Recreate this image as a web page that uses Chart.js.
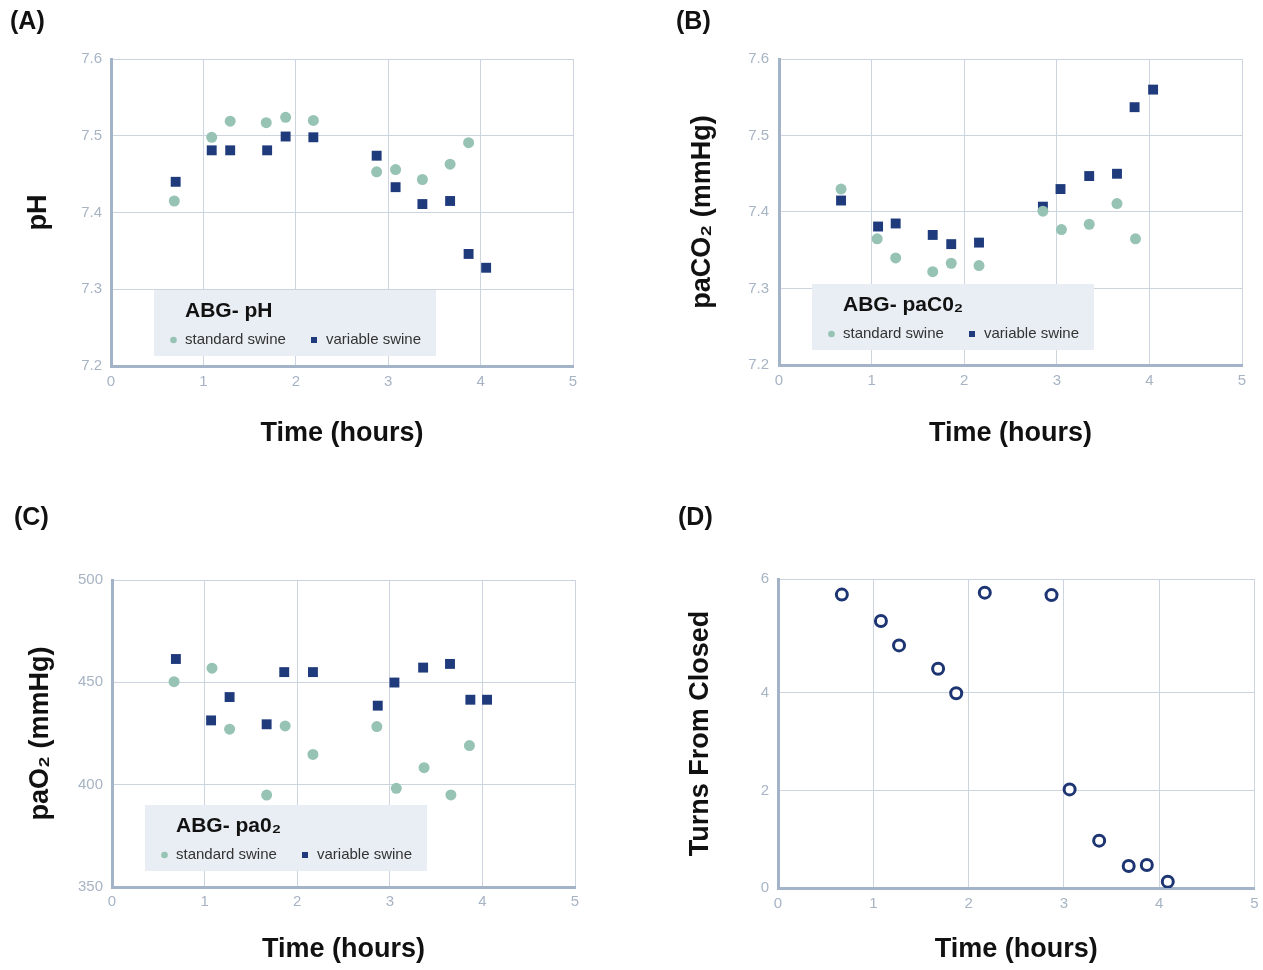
<!DOCTYPE html>
<html>
<head>
<meta charset="utf-8">
<title>ABG panels</title>
<script src="https://cdn.jsdelivr.net/npm/chart.js@4.4.0/dist/chart.umd.min.js"></script>
<style>
  body { margin: 0; background: #fff; }
  #wrap { position: relative; width: 1263px; height: 970px; }
  #wrap canvas { position: absolute; }
</style>
</head>
<body>
<div id="wrap">
  <canvas id="chartA" width="631" height="485" style="left:0;top:0"></canvas>
  <canvas id="chartB" width="631" height="485" style="left:632px;top:0"></canvas>
  <canvas id="chartC" width="631" height="485" style="left:0;top:485px"></canvas>
  <canvas id="chartD" width="631" height="485" style="left:632px;top:485px"></canvas>
</div>
<script>
// (A) pH
const phStdTime = [0.685, 1.09, 1.29, 1.68, 1.89, 2.19, 2.875, 3.08, 3.37, 3.67, 3.87];
const phStd     = [7.415, 7.498, 7.519, 7.517, 7.524, 7.520, 7.453, 7.456, 7.443, 7.463, 7.491];
const phVarTime = [0.70, 1.09, 1.29, 1.69, 1.89, 2.19, 2.875, 3.08, 3.37, 3.67, 3.87, 4.06];
const phVar     = [7.440, 7.481, 7.481, 7.481, 7.499, 7.498, 7.474, 7.433, 7.411, 7.415, 7.346, 7.328];

// (B) paCO2
const co2StdTime = [0.67, 1.06, 1.26, 1.66, 1.86, 2.16, 2.85, 3.05, 3.35, 3.65, 3.85];
const co2Std     = [7.430, 7.365, 7.340, 7.322, 7.333, 7.330, 7.401, 7.377, 7.384, 7.411, 7.365];
const co2VarTime = [0.67, 1.07, 1.26, 1.66, 1.86, 2.16, 2.85, 3.04, 3.35, 3.65, 3.84, 4.04];
const co2Var     = [7.415, 7.381, 7.385, 7.370, 7.358, 7.360, 7.407, 7.430, 7.447, 7.450, 7.537, 7.560];

// (C) paO2
const o2StdTime = [0.67, 1.08, 1.27, 1.67, 1.87, 2.17, 2.86, 3.07, 3.37, 3.66, 3.86];
const o2Std     = [450.3, 456.9, 427.1, 394.9, 428.7, 414.8, 428.4, 398.2, 408.3, 395.0, 419.1];
const o2VarTime = [0.69, 1.07, 1.27, 1.67, 1.86, 2.17, 2.87, 3.05, 3.36, 3.65, 3.87, 4.05];
const o2Var     = [461.4, 431.4, 442.8, 429.5, 455.0, 455.0, 438.6, 449.9, 457.2, 459.0, 441.5, 441.5];

// (D) valve turns
const turnsTime = [0.67, 1.08, 1.27, 1.68, 1.87, 2.17, 2.87, 3.06, 3.37, 3.68, 3.87, 4.09];
const turns     = [6.01, 5.47, 4.97, 4.49, 3.99, 6.05, 6.00, 2.02, 0.97, 0.45, 0.47, 0.13];
const turnsTicks  = [0, 2, 4, 6.33];
const turnsLabels = ['0', '2', '4', '6'];

const timeTicksMax = 5;

const stdColor = '#97c3b4';
const varColor = '#1f3b7c';
const gridColor = '#cbd4df';
const axisColor = '#a3b4c8';
const tickColor = '#a7b4c4';
const FONT = '"Liberation Sans", Arial, Helvetica, sans-serif';

Chart.defaults.font.family = FONT;
Chart.defaults.animation = false;

function pts(xs, ys) {
    return xs.map((x, i) => ({ x: x, y: ys[i] }));
}

// grey box with the "ABG- ..." heading and the two series keys
const boxLegend = {
    id: 'boxLegend',
    afterDraw(chart, args, opts) {
        if (!opts || !opts.title) return;
        const ctx = chart.ctx;
        const x = opts.x, y = opts.y;
        ctx.save();
        ctx.fillStyle = '#e8eef3';
        ctx.fillRect(x, y, 282, 66);
        ctx.textBaseline = 'middle';
        ctx.textAlign = 'left';
        ctx.fillStyle = '#111';
        ctx.font = 'bold 21px ' + FONT;
        ctx.fillText(opts.title, x + 31, y + 21);
        ctx.font = '15px ' + FONT;
        const mx = [19.5, 160], tx = [31, 172];
        chart.data.datasets.forEach((ds, i) => {
            ctx.fillStyle = ds.backgroundColor;
            if (ds.pointStyle === 'rect') {
                ctx.fillRect(x + mx[i] - 3, y + 50 - 3, 6, 6);
            } else {
                ctx.beginPath();
                ctx.arc(x + mx[i], y + 50, 3.3, 0, Math.PI * 2);
                ctx.fill();
            }
            ctx.fillStyle = '#333';
            ctx.fillText(ds.label, x + tx[i], y + 50);
        });
        ctx.restore();
    }
};

const panelLabel = {
    id: 'panelLabel',
    afterDraw(chart, args, opts) {
        if (!opts || !opts.text) return;
        const ctx = chart.ctx;
        ctx.save();
        ctx.fillStyle = '#111';
        ctx.font = 'bold 25px ' + FONT;
        ctx.textBaseline = 'middle';
        ctx.fillText(opts.text, opts.x, opts.y);
        ctx.restore();
    }
};

Chart.register(boxLegend, panelLabel);

function xScale(height, titlePad, tickPad) {
    return {
        type: 'linear',
        min: 0,
        max: timeTicksMax,
        ticks: { stepSize: 1, color: tickColor, font: { size: 15 }, padding: tickPad, maxRotation: 0 },
        grid: { color: gridColor, drawTicks: false },
        border: { color: axisColor, width: 3 },
        title: { display: true, text: 'Time (hours)', color: '#111',
                 font: { size: 27, weight: 'bold' }, padding: { top: 0, bottom: titlePad } },
        afterFit: s => { s.height = height; s.paddingLeft = 0; s.paddingRight = 0; }
    };
}

function yScale(min, max, step, title, width, titlePad, tickPad, fmt) {
    return {
        min: min,
        max: max,
        ticks: { stepSize: step, color: tickColor, font: { size: 15 }, padding: tickPad, callback: fmt },
        grid: { color: gridColor, drawTicks: false },
        border: { color: axisColor, width: 3 },
        title: { display: true, text: title, color: '#111',
                 font: { size: 27, weight: 'bold' }, padding: { top: titlePad, bottom: 0 } },
        afterFit: s => { s.width = width; s.paddingTop = 0; s.paddingBottom = 0; }
    };
}

function twoSeries(stdT, stdV, varT, varV) {
    return [
        { label: 'standard swine', data: pts(stdT, stdV), pointStyle: 'circle',
          pointRadius: 5.5, backgroundColor: stdColor, borderWidth: 0 },
        { label: 'variable swine', data: pts(varT, varV), pointStyle: 'rect',
          pointRadius: 7, backgroundColor: varColor, borderWidth: 0 }
    ];
}

function baseOptions(pad, x, y, plugins) {
    return {
        responsive: false,
        devicePixelRatio: 1,
        layout: { padding: { top: pad.top, right: pad.right, bottom: 0, left: 0 } },
        scales: { x: x, y: y },
        plugins: Object.assign({ legend: { display: false }, tooltip: { enabled: false } }, plugins)
    };
}

const oneDecimal = v => v.toFixed(1);

new Chart(document.getElementById('chartA'), {
    type: 'scatter',
    data: { datasets: twoSeries(phStdTime, phStd, phVarTime, phVar) },
    options: baseOptions({ top: 59, right: 58 },
        xScale(119, 35, 7),
        yScale(7.2, 7.6, 0.1, 'pH', 111, 22, 9, oneDecimal),
        { boxLegend: { title: 'ABG- pH', x: 154, y: 290 },
          panelLabel: { text: '(A)', x: 10, y: 22 } })
});

new Chart(document.getElementById('chartB'), {
    type: 'scatter',
    data: { datasets: twoSeries(co2StdTime, co2Std, co2VarTime, co2Var) },
    options: baseOptions({ top: 59, right: 21 },
        xScale(120, 35, 7),
        yScale(7.2, 7.6, 0.1, 'paCO₂ (mmHg)', 147, 54, 10, oneDecimal),
        { boxLegend: { title: 'ABG- paC0₂', x: 180, y: 284 },
          panelLabel: { text: '(B)', x: 44, y: 22 } })
});

new Chart(document.getElementById('chartC'), {
    type: 'scatter',
    data: { datasets: twoSeries(o2StdTime, o2Std, o2VarTime, o2Var) },
    options: baseOptions({ top: 95, right: 56 },
        xScale(83, 4, 6),
        yScale(350, 500, 50, 'paO₂ (mmHg)', 112, 24, 9, v => v),
        { boxLegend: { title: 'ABG- pa0₂', x: 145, y: 320 },
          panelLabel: { text: '(C)', x: 14, y: 33 } })
});

const dY = yScale(0, turnsTicks[turnsTicks.length - 1], 2, 'Turns From Closed', 146, 52, 9,
    (v, i) => turnsLabels[i]);
dY.afterBuildTicks = s => { s.ticks = turnsTicks.map(v => ({ value: v })); };

new Chart(document.getElementById('chartD'), {
    type: 'scatter',
    data: {
        datasets: [{
            label: 'turns',
            data: pts(turnsTime, turns),
            pointStyle: 'circle',
            pointRadius: 5.5,
            borderWidth: 3,
            borderColor: '#1d3572',
            backgroundColor: '#fff'
        }]
    },
    options: baseOptions({ top: 94, right: 5 },
        xScale(82, 4, 7),
        dY,
        { panelLabel: { text: '(D)', x: 46, y: 33 } })
});
</script>
</body>
</html>
